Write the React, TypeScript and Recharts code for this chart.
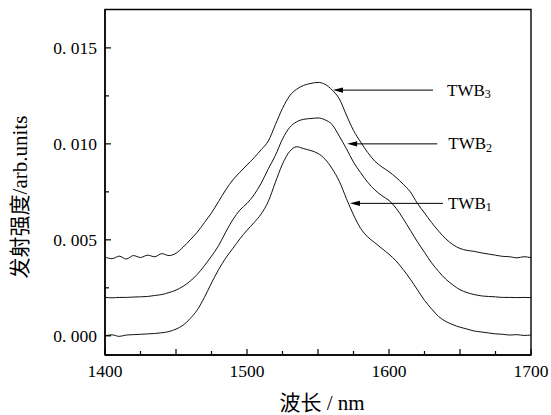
import React from "react";
import { LineChart, Line, XAxis, YAxis, ReferenceArea, ReferenceLine } from "recharts";

const wavelengths = [
  1400, 1405, 1410, 1415, 1420, 1425, 1430, 1435, 1440, 1445, 1450, 1455, 1460, 1465, 1470, 1475,
  1480, 1485, 1490, 1495, 1500, 1505, 1510, 1515, 1520, 1525, 1530, 1535, 1540, 1545, 1550, 1555,
  1560, 1565, 1570, 1575, 1580, 1585, 1590, 1595, 1600, 1605, 1610, 1615, 1620, 1625, 1630, 1635,
  1640, 1645, 1650, 1655, 1660, 1665, 1670, 1675, 1680, 1685, 1690, 1695, 1700,
];

const twb3 = [
  0.0041, 0.00402, 0.00415, 0.004, 0.00418, 0.00408, 0.0042, 0.00412, 0.00428, 0.00418, 0.0043,
  0.00462, 0.005, 0.0054, 0.0059, 0.0064, 0.007, 0.0076, 0.00812, 0.00852, 0.0089, 0.00928,
  0.0097, 0.01015, 0.011, 0.01185, 0.0125, 0.01285, 0.01305, 0.01315, 0.0132, 0.0131, 0.0128,
  0.01235, 0.0115, 0.0107, 0.0101, 0.00955, 0.0091, 0.0088, 0.00855, 0.00825, 0.0079, 0.0075,
  0.0069, 0.0064, 0.0059, 0.00545, 0.00505, 0.00475, 0.00455, 0.00445, 0.0044, 0.00432, 0.00426,
  0.0042, 0.00414, 0.00412, 0.00406, 0.00412, 0.00407,
];

const twb2 = [
  0.002, 0.00198, 0.002, 0.002, 0.00202, 0.00203, 0.00205, 0.0021, 0.00215, 0.00225, 0.00238,
  0.00258, 0.00285, 0.0032, 0.00365, 0.00415, 0.0047, 0.0054, 0.00605, 0.00655, 0.0069, 0.00735,
  0.00795, 0.0087, 0.0094, 0.01025, 0.01085, 0.01115, 0.01128, 0.01132, 0.01135, 0.01125, 0.011,
  0.0104, 0.00975, 0.00905, 0.0085, 0.008, 0.0076, 0.0073, 0.00705, 0.00665, 0.0061, 0.0055,
  0.0049, 0.00435, 0.0038, 0.00335, 0.00295, 0.00265, 0.0024, 0.00225, 0.00215, 0.00208, 0.00205,
  0.00203, 0.002, 0.002, 0.00199, 0.002, 0.00199,
];

const twb1 = [
  0.0, 0.00005, -0.00003, 0.00004, 0.00006, 0.00008, 0.0001, 0.00012, 0.00016, 0.00022, 0.00035,
  0.00055, 0.0009, 0.00135, 0.002, 0.00275, 0.00345, 0.00405, 0.00455, 0.00505, 0.0055, 0.0059,
  0.00635, 0.007, 0.008, 0.00895, 0.0096, 0.00985, 0.00975, 0.00965, 0.0095, 0.0092, 0.0087,
  0.00805, 0.00715, 0.0063, 0.0056, 0.00515, 0.00485, 0.00455, 0.00425, 0.0039, 0.00345, 0.00295,
  0.0024, 0.00185, 0.0014, 0.001, 0.00075, 0.00058, 0.00045, 0.00035, 0.00025, 0.0002, 0.00015,
  0.0001, 0.00008, 0.00004, 0.00006, 0.00002, 0.00004,
];

const xTicks = [1400, 1425, 1450, 1475, 1500, 1525, 1550, 1575, 1600, 1625, 1650, 1675, 1700];
const xLabeled = [1400, 1500, 1600, 1700];
const xMajor = [1400, 1450, 1500, 1550, 1600, 1650, 1700];
const yTicks = [0, 0.0025, 0.005, 0.0075, 0.01, 0.0125, 0.015];
const yLabeled = [0, 0.005, 0.01, 0.015];

const annotationNames = ["TWB", "TWB", "TWB"];
const annotationSubs = ["3", "2", "1"];
const annotationY = [0.0128, 0.01, 0.0069];
const arrowTipX = [1560.5, 1570.5, 1572.5];
const arrowStartX = [1631, 1634, 1638];
const labelGap = [14, 11, 5];

const data = wavelengths.map((nm, i) => ({ nm, twb1: twb1[i], twb2: twb2[i], twb3: twb3[i] }));

const SERIF = "'Liberation Serif', 'Noto Sans CJK SC', serif";

const YTick = (props: any) => {
  const { x, y, payload } = props;
  const v = payload.value;
  const labeled = yLabeled.some((t) => Math.abs(t - v) < 1e-9);
  return (
    <g>
      <line x1={x} x2={x + (labeled ? 6 : 4)} y1={y} y2={y} stroke="#000" strokeWidth={1.2} />
      {labeled && (
        <text x={x - 8} y={y} textAnchor="end" dominantBaseline="central" fontSize={17.5} fontFamily={SERIF} fill="#000">
          {v.toFixed(3).replace(".", ". ")}
        </text>
      )}
    </g>
  );
};

const XTick = (props: any) => {
  const { x, y, payload } = props;
  const v = payload.value;
  const labeled = xLabeled.includes(v);
  const major = xMajor.includes(v);
  return (
    <g>
      <line x1={x} x2={x} y1={y} y2={y - (major ? 6 : 4)} stroke="#000" strokeWidth={1.2} />
      {labeled && (
        <text x={x} y={y + 16} textAnchor="middle" dominantBaseline="central" fontSize={17.5} fontFamily={SERIF} fill="#000">
          {v}
        </text>
      )}
    </g>
  );
};

const makeArrow = (i: number) => (props: any) => {
  const { x1, y1, x2, y2 } = props;
  const right = Math.max(x1, x2);
  const left = Math.min(x1, x2);
  const yy = y1;
  return (
    <g>
      <line x1={right} y1={yy} x2={left + 8} y2={y2} stroke="#000" strokeWidth={1} />
      <polygon points={`${left},${yy} ${left + 10},${yy - 2.6} ${left + 10},${yy + 2.6}`} fill="#000" />
      <text x={right + labelGap[i]} y={yy} dominantBaseline="central" fontSize={17} fontFamily={SERIF} fill="#000">
        {annotationNames[i]}
        <tspan fontSize={12} dy={4}>
          {annotationSubs[i]}
        </tspan>
      </text>
    </g>
  );
};

export default function App() {
  return (
    <div style={{ position: "absolute", left: 0, top: 0, width: 551, height: 415, background: "#fff" }}>
      <LineChart width={551} height={415} data={data} margin={{ top: 9.5, right: 20, bottom: 0, left: 0 }}>
        <XAxis
          dataKey="nm"
          type="number"
          domain={[1400, 1700]}
          ticks={xTicks}
          interval={0}
          tickSize={0}
          tickMargin={0}
          tick={<XTick />}
          axisLine={{ stroke: "#000", strokeWidth: 1.4 }}
          height={60}
          label={{
            content: () => (
              <text x={322} y={403} textAnchor="middle" dominantBaseline="central" fontSize={21} fontFamily={SERIF} fill="#000">
                波长 / nm
              </text>
            ),
          }}
        />
        <YAxis
          type="number"
          domain={[-0.001, 0.017]}
          ticks={yTicks}
          interval={0}
          tickSize={0}
          tickMargin={0}
          tick={<YTick />}
          axisLine={{ stroke: "#000", strokeWidth: 1.4 }}
          width={105}
          allowDataOverflow
          label={{
            content: () => (
              <text
                x={20}
                y={197}
                transform="rotate(-90 20 197)"
                textAnchor="middle"
                dominantBaseline="central"
                fontSize={21}
                fontFamily={SERIF}
                fill="#000"
              >
                发射强度/arb.units
              </text>
            ),
          }}
        />
        <ReferenceArea x1={1400} x2={1700} y1={-0.001} y2={0.017} fill="none" stroke="#000" strokeWidth={1.4} />
        <Line type="monotone" dataKey="twb1" stroke="#111" strokeWidth={1} dot={false} isAnimationActive={false} />
        <Line type="monotone" dataKey="twb2" stroke="#111" strokeWidth={1} dot={false} isAnimationActive={false} />
        <Line type="monotone" dataKey="twb3" stroke="#111" strokeWidth={1} dot={false} isAnimationActive={false} />
        {annotationY.map((yv, i) => (
          <ReferenceLine
            key={i}
            segment={[
              { x: arrowStartX[i], y: yv },
              { x: arrowTipX[i], y: yv },
            ]}
            stroke="#000"
            shape={makeArrow(i)}
          />
        ))}
      </LineChart>
    </div>
  );
}
